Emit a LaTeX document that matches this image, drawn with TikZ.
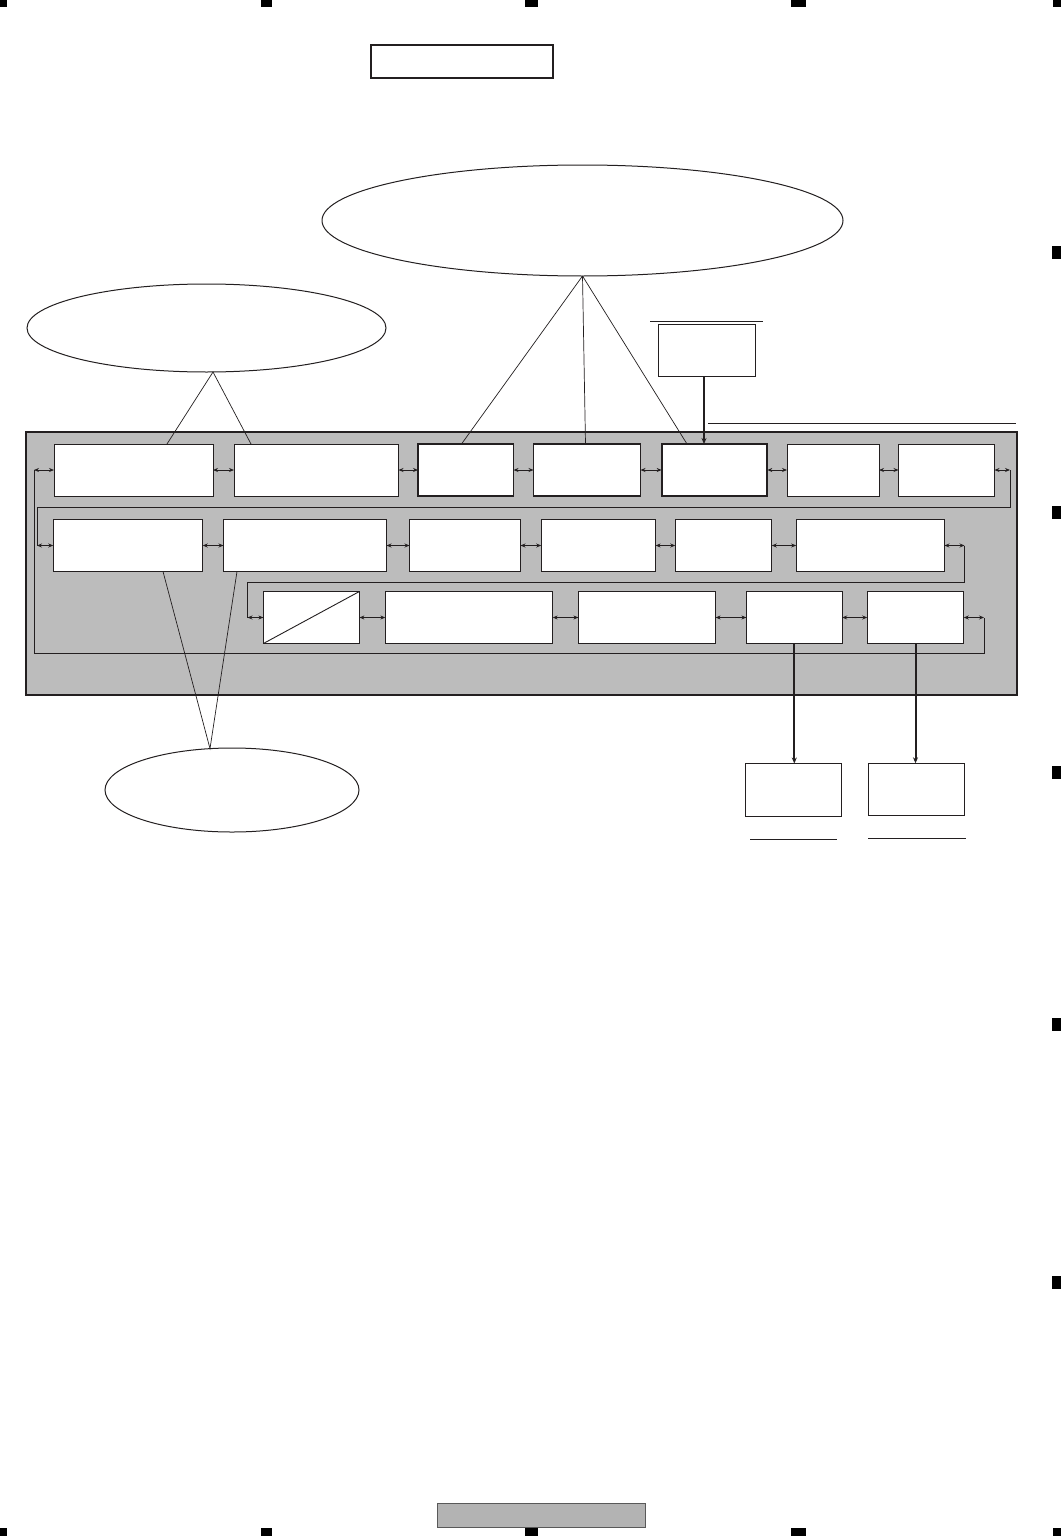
\documentclass[tikz,border=0pt]{standalone}
\usepackage{tikz}
\usetikzlibrary{shapes.geometric, arrows.meta}

\definecolor{ink}{RGB}{35,31,32}
\definecolor{boardgray}{RGB}{188,188,188}
\definecolor{pagegray}{RGB}{179,179,179}

\begin{document}
\begin{tikzpicture}[x=1pt, y=-1pt,
    blk/.style={draw=ink, fill=white, line width=1pt, inner sep=0pt, outer sep=0pt, minimum height=52pt},
    bubble/.style={draw=ink, ellipse, line width=1pt, inner sep=0pt, outer sep=0pt},
    wire/.style={draw=ink, line width=0.9pt},
    link/.style={wire, {Stealth[length=5pt,width=4pt]}-{Stealth[length=5pt,width=4pt]}},
    feed/.style={draw=ink, line width=2pt, -{Stealth[length=6pt,width=5pt]}},
    callout/.style={draw=ink, line width=0.7pt},
    rule/.style={draw=ink, line width=1pt}]

    % Page frame
    \fill[white] (0,0) rectangle (1061,1536);
    \useasboundingbox (0,0) rectangle (1061,1536);

    % Registration marks
    \foreach \xa/\xb in {0/7, 261/272, 525/538, 791/806, 1053/1061} {
        \fill[black] (\xa,0) rectangle (\xb,7);
        \fill[black] (\xa,1528) rectangle (\xb,1536);
    }
    \foreach \ya in {246, 506, 766, 1018, 1276}
        \fill[black] (1052,\ya) rectangle (1061,\ya+13);

    % Title and page number boxes
    \node[blk, minimum width=182pt, minimum height=33pt, line width=1.2pt] (title) at (462,61.5) {};
    \node[draw=gray!70!black, fill=pagegray, line width=1pt, inner sep=0pt,
          minimum width=208pt, minimum height=24pt] (pageno) at (541,1515) {};

    % Bubbles
    \node[bubble, minimum width=521pt, minimum height=111pt] (ellT) at (582.5,220.5) {};
    \node[bubble, minimum width=359pt, minimum height=88pt] (ellL) at (206.5,328) {};
    \node[bubble, minimum width=254pt, minimum height=84pt] (ellB) at (232,790) {};

    % Gray board
    \node[draw=ink, fill=boardgray, line width=1.8pt, inner sep=0pt,
          minimum width=991pt, minimum height=263pt] (board) at (521.5,563.5) {};

    % Row 1
    \foreach \id/\cx/\w/\lw in {b1/133.5/159/1, b2/316.25/164.5/1, b3/465.75/95.5/1.8,
                                b4/587/107/1.8, b5/714.5/105.7/1.8, b6/833/92/1, b7/946.5/96/1}
        \node[blk, minimum width=\w pt, line width=\lw pt] (\id) at (\cx,470) {};

    % Row 2
    \foreach \id/\cx/\w in {c1/128/149.5, c2/305/163, c3/465/111,
                            c4/598.4/114.4, c5/723.5/96.5, c6/870.3/148.3}
        \node[blk, minimum width=\w pt] (\id) at (\cx,545.5) {};

    % Row 3
    \foreach \id/\cx/\w in {d1/311.4/96, d2/469/167.3, d3/647/137.2,
                            d4/794.3/95.8, d5/915.5/96.5}
        \node[blk, minimum width=\w pt] (\id) at (\cx,617.5) {};
    \draw[wire] (d1.south west) -- (d1.north east);

    % Boxes outside the board
    \node[blk, minimum width=97.4pt] (fuse) at (707,350.3) {};
    \node[blk, minimum width=96.4pt, minimum height=53pt] (e1) at (793.5,790) {};
    \node[blk, minimum width=96pt] (e2) at (916.3,789.3) {};
    \draw[rule] ([xshift=-8.3pt,yshift=3pt]fuse.north west) -- ([xshift=7pt,yshift=3pt]fuse.north east);
    \draw[rule] ([xshift=4.7pt,yshift=-23pt]e1.south west) -- ([xshift=-5pt,yshift=-23pt]e1.south east);
    \draw[rule] ([xshift=-0.3pt,yshift=-23pt]e2.south west) -- ([xshift=1.4pt,yshift=-23pt]e2.south east);
    \draw[rule] (708,423.3) -- (1016,423.3);

    % Links inside each row
    \foreach \a/\b in {b1/b2, b2/b3, b3/b4, b4/b5, b5/b6, b6/b7,
                       c1/c2, c2/c3, c3/c4, c4/c5, c5/c6,
                       d1/d2, d2/d3, d3/d4, d4/d5}
        \draw[link] (\a.east) -- (\b.west);

    % Bus turning from row to row
    \coordinate (l1) at (34,470);
    \coordinate (r1) at (1010,470);
    \coordinate (l2) at (37,545.5);
    \coordinate (r2) at (964.5,545.5);
    \coordinate (l3) at (247.5,617.5);
    \coordinate (r3) at (984,617.5);
    \draw[link] (l1) -- (b1.west);
    \draw[link] (b7.east) -- (r1);
    \draw[link] (l2) -- (c1.west);
    \draw[link] (c6.east) -- (r2);
    \draw[link] (l3) -- (d1.west);
    \draw[link] (d5.east) -- (r3);
    \draw[wire] (r1) -- (1010,507.5) -| (l2);
    \draw[wire] (r2) -- (964.5,582) -| (l3);
    \draw[wire] (l1) -- (34,653.5) -| (r3);

    % Feeds in and out
    \coordinate (fuseout) at ([xshift=-3pt]fuse.south);
    \draw[feed] (fuseout) -- (fuseout |- b5.north);
    \draw[feed] (d4.south) -- (d4.south |- e1.north);
    \draw[feed] (d5.south) -- (d5.south |- e2.north);

    % Callouts from the bubbles
    \foreach \t/\dx in {b3/-4.25, b4/-1.5, b5/-27.5}
        \draw[callout] (ellT.south) -- ([xshift=\dx pt]\t.north);
    \coordinate (ellLtip) at ([xshift=6.5pt]ellL.south);
    \draw[callout] ([xshift=33.5pt]b1.north) -- (ellLtip) -- ([xshift=-65.25pt]b2.north);
    \coordinate (ellBtip) at ([xshift=-22pt,yshift=-0.6pt]ellB.north);
    \draw[callout] ([xshift=35pt]c1.south) -- (ellBtip) -- ([xshift=-68pt]c2.south);
\end{tikzpicture}
\end{document}
